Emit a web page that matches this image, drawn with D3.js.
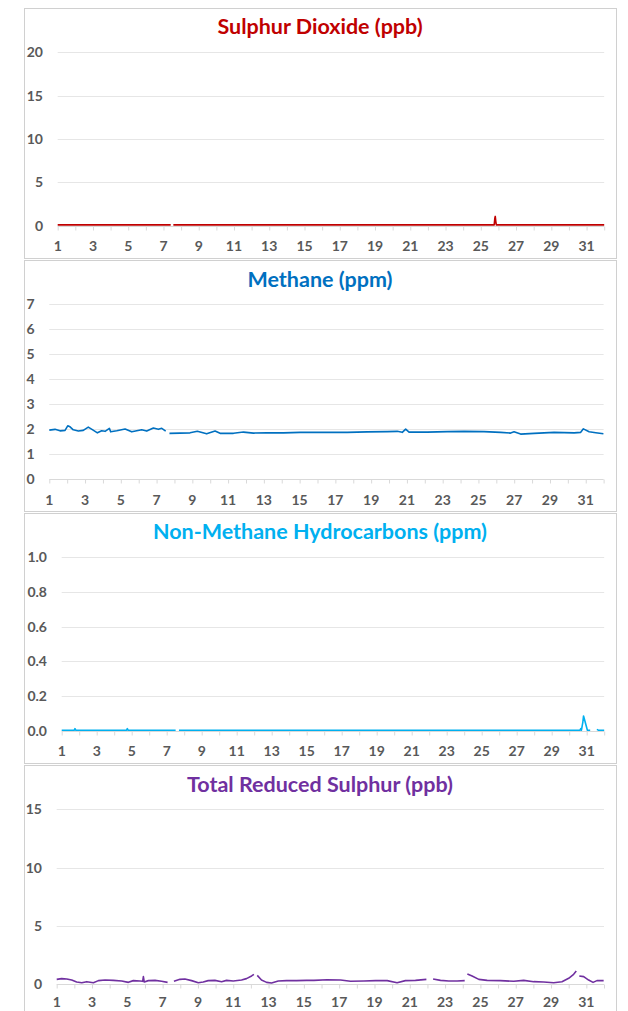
<!DOCTYPE html>
<html>
<head>
<meta charset="utf-8">
<script src="https://cdn.jsdelivr.net/npm/d3@7"></script>
<style>
  body { margin: 0; background: #fff; }
  svg { display: block; }
  .title { font-family: Lato, "Open Sans", sans-serif; font-weight: bold; font-size: 21.5px; }
  .tick text { font-family: Lato, "Open Sans", sans-serif; font-weight: bold; font-size: 14px; fill: #595959; }
</style>
</head>
<body>
<svg id="chart" width="628" height="1011"></svg>
<script>
// x axis labels (day of month)
var dayLabels = [1, 3, 5, 7, 9, 11, 13, 15, 17, 19, 21, 23, 25, 27, 29, 31];
var dayTicks = d3.range(1, 33);

// y axis ticks per panel
var so2Ticks = [0, 5, 10, 15, 20];
var ch4Ticks = [0, 1, 2, 3, 4, 5, 6, 7];
var nmhcTicks = [0, 0.2, 0.4, 0.6, 0.8, 1.0];
var trsTicks = [0, 5, 10, 15];

// series as [day, value], null value = missing data
var so2Points = [
  [1, 0.1], [7.41, 0.1], [7.48, null], [7.56, 0.1], [25.76, 0.1], [25.8, 0.9],
  [25.82, 1.07], [25.85, 0.5], [25.88, 0.1], [32, 0.1]
];

var ch4Points = [
  [1.0, 1.96], [1.32, 1.99], [1.6, 1.93], [1.88, 1.95], [2.03, 2.13], [2.16, 2.09],
  [2.34, 1.97], [2.62, 1.92], [2.9, 1.95], [3.18, 2.08], [3.43, 1.97], [3.69, 1.85],
  [3.93, 1.93], [4.12, 1.91], [4.36, 2.03], [4.43, 1.89], [4.77, 1.93], [5.24, 2.0],
  [5.61, 1.89], [6.17, 1.97], [6.45, 1.92], [6.82, 2.04], [7.1, 1.99], [7.29, 2.03],
  [7.51, 1.92], [7.6, null], [7.72, 1.83], [8.31, 1.84], [8.87, 1.85], [9.28, 1.91],
  [9.8, 1.81], [10.27, 1.92], [10.55, 1.83], [11.3, 1.83], [11.86, 1.88], [12.42, 1.84],
  [13.16, 1.85], [14.1, 1.85], [15.03, 1.87], [15.8, 1.87], [17.66, 1.87], [18.78, 1.89],
  [19.9, 1.9], [20.46, 1.91], [20.74, 1.87], [20.93, 2.0], [21.12, 1.88], [22.14, 1.88],
  [23.26, 1.9], [24.19, 1.91], [25.31, 1.9], [26.24, 1.87], [26.8, 1.84], [26.99, 1.89],
  [27.36, 1.8], [28.11, 1.83], [29.23, 1.87], [30.35, 1.85], [30.72, 1.87], [30.87, 2.01],
  [31.19, 1.89], [31.56, 1.85], [31.99, 1.81]
];

var nmhcPoints = [
  [1, 0.003], [1.72, 0.003], [1.76, 0.012], [1.8, 0.003], [4.71, 0.003], [4.75, 0.012],
  [4.79, 0.003], [7.51, 0.003], [7.6, null], [7.7, 0.003], [30.62, 0.003], [30.66, 0.012],
  [30.7, 0.003], [30.78, 0.05], [30.82, 0.085], [31.04, 0.003], [31.2, 0.003], [31.3, null],
  [31.58, 0.008], [31.66, 0.003], [32, 0.003]
];

var trsPoints = [
  [1.0, 0.40], [1.28, 0.46], [1.57, 0.43], [1.85, 0.34], [2.13, 0.17], [2.42, 0.11],
  [2.7, 0.2], [3.08, 0.11], [3.36, 0.29], [3.74, 0.34], [4.21, 0.31], [4.68, 0.26],
  [5.06, 0.14], [5.34, 0.29], [5.72, 0.26], [5.87, 0.23], [5.91, 0.63], [5.96, 0.17],
  [6.19, 0.29], [6.57, 0.31], [6.94, 0.23], [7.28, 0.14], [7.45, null], [7.64, 0.23],
  [7.98, 0.4], [8.26, 0.43], [8.64, 0.29], [9.02, 0.11], [9.3, 0.17], [9.58, 0.29],
  [9.96, 0.31], [10.34, 0.2], [10.62, 0.31], [11.0, 0.26], [11.47, 0.34], [11.75, 0.46],
  [12.04, 0.69], [12.17, 0.83], [12.26, null], [12.36, 0.74], [12.6, 0.34], [12.89, 0.14],
  [13.17, 0.09], [13.55, 0.26], [14.02, 0.29], [14.58, 0.29], [15.15, 0.31], [15.57, 0.31],
  [16.32, 0.37], [17.08, 0.34], [17.64, 0.23], [18.4, 0.26], [19.06, 0.29], [19.72, 0.29],
  [20.28, 0.11], [20.75, 0.29], [21.32, 0.31], [21.94, 0.4], [22.1, null], [22.32, 0.43],
  [22.74, 0.31], [23.21, 0.26], [23.68, 0.26], [24.11, 0.29], [24.18, null], [24.26, 0.86],
  [24.53, 0.69], [24.91, 0.4], [25.38, 0.31], [26.13, 0.29], [26.89, 0.23], [27.45, 0.31],
  [28.02, 0.2], [28.58, 0.17], [29.15, 0.11], [29.62, 0.2], [30.0, 0.49], [30.28, 0.83],
  [30.43, 1.11], [30.52, null], [30.6, 0.69], [30.85, 0.63], [31.13, 0.34], [31.38, 0.14],
  [31.6, 0.29], [31.98, 0.29]
];

// panel layout built from the arrays above
var panels = [
  { title: "Sulphur Dioxide (ppb)", color: "#C00000", pts: so2Points, ticks: so2Ticks, fmt: d3.format("d"),
    box: [24, 8, 616, 258], x0: 57.7, x1: 604.2, yTop: 52.3, yZero: 225.7, titleY: 34, labY: 251, labX: 43 },
  { title: "Methane (ppm)", color: "#0070C0", pts: ch4Points, ticks: ch4Ticks, fmt: d3.format("d"),
    box: [24, 260, 616, 511], x0: 49.3, x1: 603.6, yTop: 304.3, yZero: 479, titleY: 287, labY: 505, labX: 34.5 },
  { title: "Non-Methane Hydrocarbons (ppm)", color: "#00B0F0", pts: nmhcPoints, ticks: nmhcTicks, fmt: d3.format(".1f"),
    box: [24, 513, 616, 763], x0: 61.7, x1: 604.2, yTop: 557.3, yZero: 730.7, titleY: 539, labY: 756, labX: 47 },
  { title: "Total Reduced Sulphur (ppb)", color: "#7030A0", pts: trsPoints, ticks: trsTicks, fmt: d3.format("d"),
    box: [24, 765, 616, 1030], x0: 56.7, x1: 604, yTop: 809.3, yZero: 984, titleY: 792, labY: 1007, labX: 42 }
];

var svg = d3.select("#chart");

panels.forEach(function(p) {
  var g = svg.append("g");

  g.append("rect")
    .attr("x", p.box[0] + 0.5).attr("y", p.box[1] + 0.5)
    .attr("width", p.box[2] - p.box[0]).attr("height", p.box[3] - p.box[1])
    .attr("fill", "#fff").attr("stroke", "#d0d0d0");

  var x = d3.scaleLinear().domain([1, 32]).range([p.x0, p.x1]);
  var yMax = p.ticks[p.ticks.length - 1];
  var y = d3.scaleLinear().domain([0, yMax]).range([p.yZero, p.yTop]);

  // gridlines
  g.selectAll(".grid").data(p.ticks.filter(function(t) { return t > 0; }))
    .enter().append("line")
    .attr("x1", p.x0).attr("x2", p.x1)
    .attr("y1", function(d) { return Math.round(y(d)) + 0.5; })
    .attr("y2", function(d) { return Math.round(y(d)) + 0.5; })
    .attr("stroke", "#e6e6e6").attr("stroke-width", 1);

  // y axis labels (no line)
  var yAxis = d3.axisLeft(y).tickValues(p.ticks).tickFormat(p.fmt).tickSize(0).tickPadding(0);
  g.append("g").attr("transform", "translate(" + p.labX + ",0)").call(yAxis)
    .call(function(s) { s.select(".domain").remove(); });

  // x axis line with day ticks
  var xAxis = d3.axisBottom(x).tickValues(dayTicks).tickSize(4).tickFormat("");
  var xa = g.append("g").attr("transform", "translate(0," + (Math.round(p.yZero) + 0.5) + ")").call(xAxis);
  xa.select(".domain").attr("stroke", "#d9d9d9").attr("d", "M" + p.x0 + ",0H" + p.x1);
  xa.selectAll(".tick line").attr("stroke", "#d9d9d9");

  // x labels
  g.selectAll(".xlab").data(dayLabels).enter().append("text")
    .attr("x", function(d) { return x(d); })
    .attr("y", p.labY)
    .attr("text-anchor", "middle")
    .style("font-family", "Lato, 'Open Sans', sans-serif")
    .style("font-weight", "bold").style("font-size", "14px").style("fill", "#595959")
    .text(function(d) { return d; });

  // data line
  var line = d3.line()
    .defined(function(d) { return d[1] !== null; })
    .x(function(d) { return x(d[0]); })
    .y(function(d) { return y(d[1]); });
  g.append("path").datum(p.pts)
    .attr("d", line)
    .attr("fill", "none").attr("stroke", p.color).attr("stroke-width", 1.6)
    .attr("stroke-linejoin", "round");

  // title
  g.append("text").attr("class", "title")
    .attr("x", (p.box[0] + p.box[2]) / 2).attr("y", p.titleY)
    .attr("text-anchor", "middle").attr("fill", p.color)
    .text(p.title);
});
</script>
</body>
</html>
